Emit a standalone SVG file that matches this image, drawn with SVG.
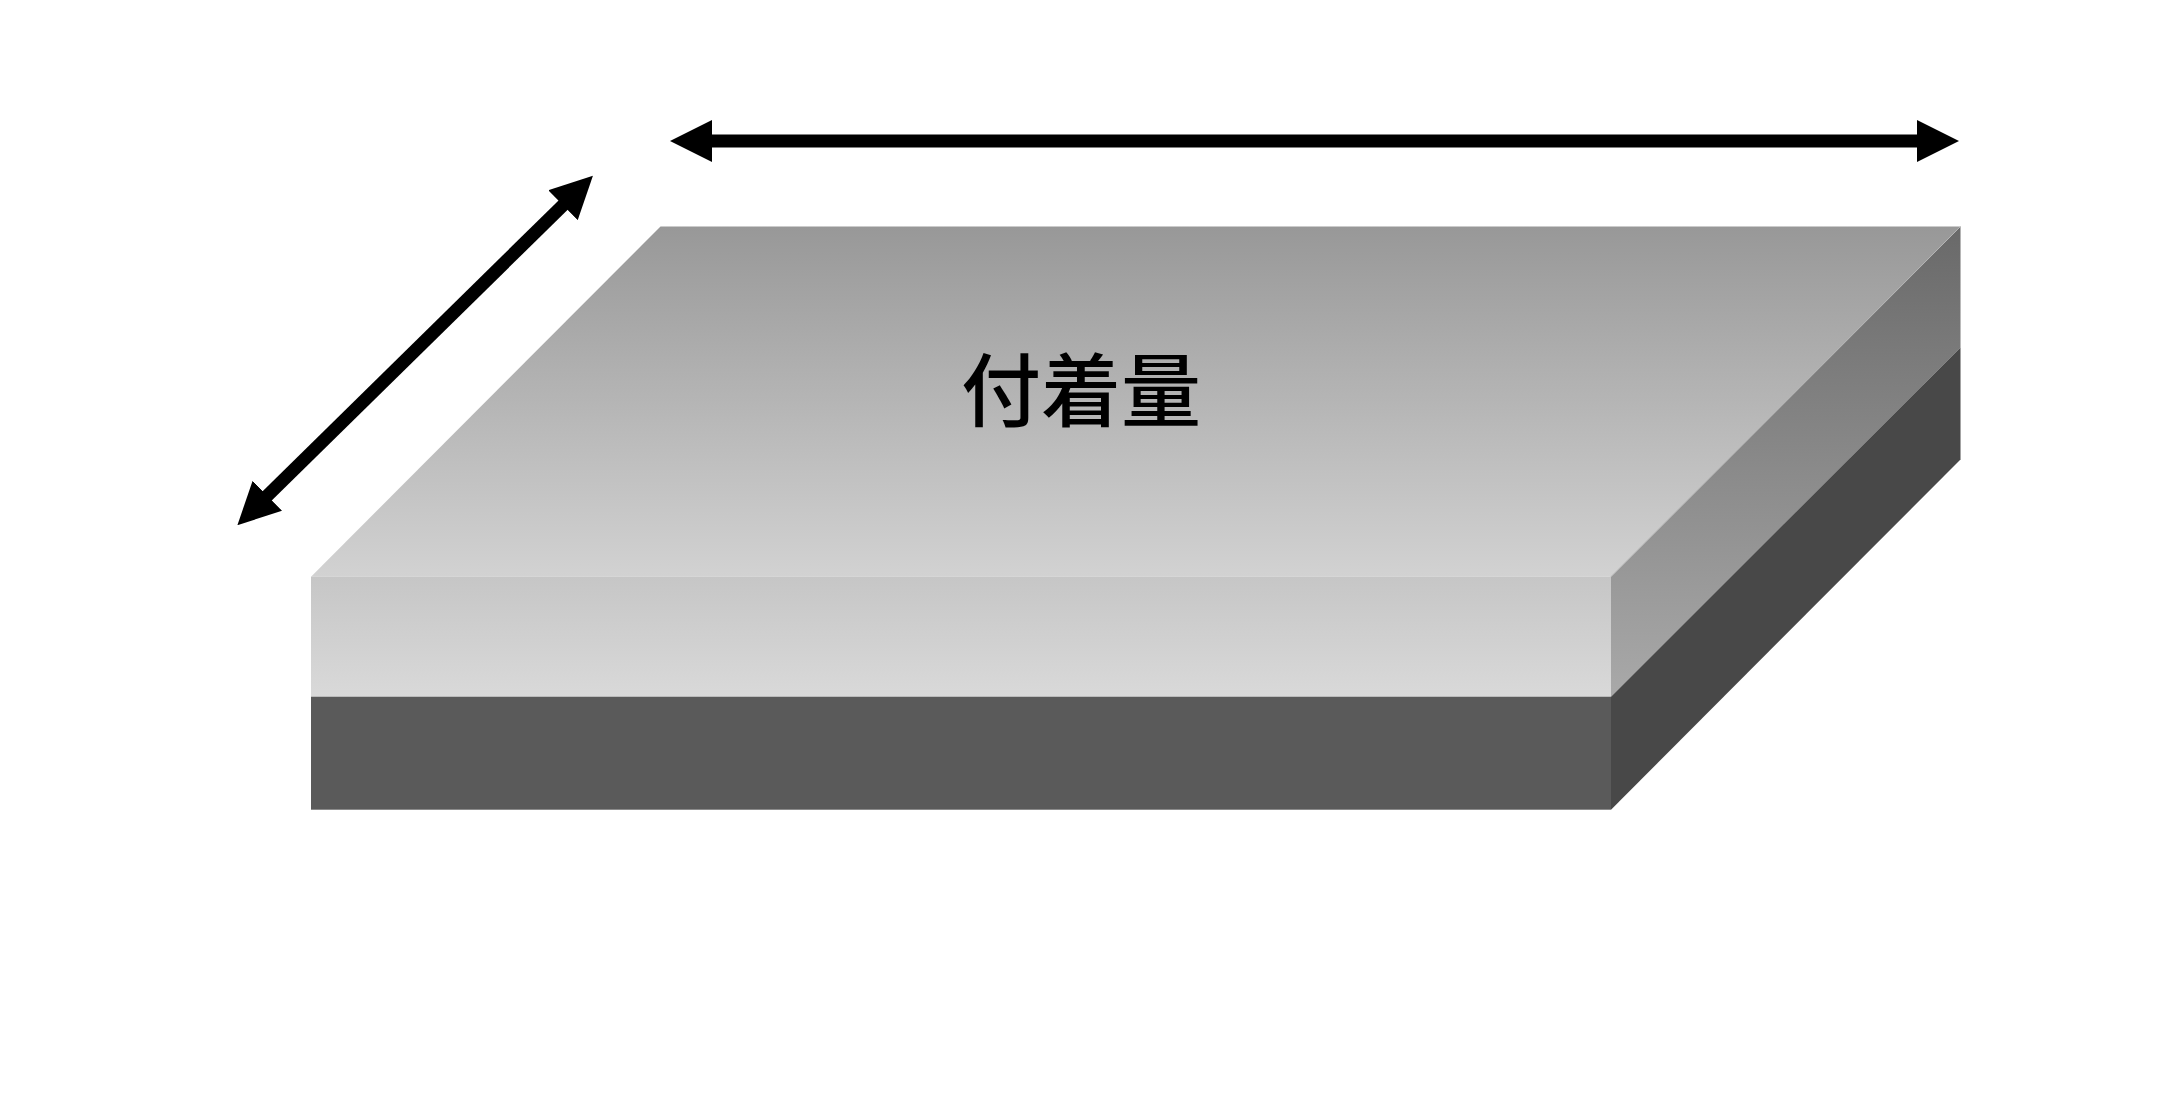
<svg xmlns="http://www.w3.org/2000/svg" width="2163" height="1104" viewBox="0 0 2163 1104">
  <style>
    .label { font-family: "Noto Sans CJK JP", "Noto Sans CJK SC", sans-serif; font-size: 80px; font-weight: 500; fill: #000; }
    .dim { stroke: #000; stroke-width: 13; fill: none; }
  </style>
  <defs>
    <linearGradient id="gTop" x1="0" y1="226.5" x2="0" y2="576.7" gradientUnits="userSpaceOnUse">
      <stop offset="0" stop-color="#989898"/>
      <stop offset="1" stop-color="#d2d2d2"/>
    </linearGradient>
    <linearGradient id="gFront" x1="0" y1="576.7" x2="0" y2="696.7" gradientUnits="userSpaceOnUse">
      <stop offset="0" stop-color="#c6c6c6"/>
      <stop offset="1" stop-color="#d9d9d9"/>
    </linearGradient>
    <linearGradient id="gSide" x1="0" y1="226.5" x2="0" y2="696.7" gradientUnits="userSpaceOnUse">
      <stop offset="0" stop-color="#696969"/>
      <stop offset="1" stop-color="#a9a9a9"/>
    </linearGradient>
    <marker id="head" viewBox="0 0 42 42" markerWidth="42" markerHeight="42" refX="2" refY="21" orient="auto-start-reverse" markerUnits="userSpaceOnUse">
      <path d="M0,0 L42,21 L0,42 z" fill="#000"/>
    </marker>
  </defs>
  <rect width="2163" height="1104" fill="#fff"/>
  <g id="slab">
    <polygon id="top-face" points="660.5,226.5 1960.5,226.5 1611,576.7 311,576.7" fill="url(#gTop)"/>
    <rect id="front-coating" x="311" y="576.7" width="1300" height="120" fill="url(#gFront)"/>
    <rect id="front-base" x="311" y="696.7" width="1300" height="113" fill="#5a5a5a"/>
    <polygon id="side-coating" points="1611,576.7 1960.5,226.5 1960.5,347.5 1611,696.7" fill="url(#gSide)"/>
    <polygon id="side-base" points="1611,696.7 1960.5,347.5 1960.5,459.5 1611,809.7" fill="#484848"/>
    <line x1="1611" y1="576.7" x2="1960.5" y2="226.5" stroke="#b4b4b4" stroke-width="1"/>
  </g>
  <g id="label">
    <text class="label" x="1081" y="420" text-anchor="middle">付着量</text>
  </g>
  <g id="connectors">
    <line class="dim" x1="710" y1="141" x2="1919" y2="141" marker-start="url(#head)" marker-end="url(#head)"/>
    <line class="dim" x1="265.9" y1="497.2" x2="564.4" y2="203.8" marker-start="url(#head)" marker-end="url(#head)"/>
  </g>
</svg>
